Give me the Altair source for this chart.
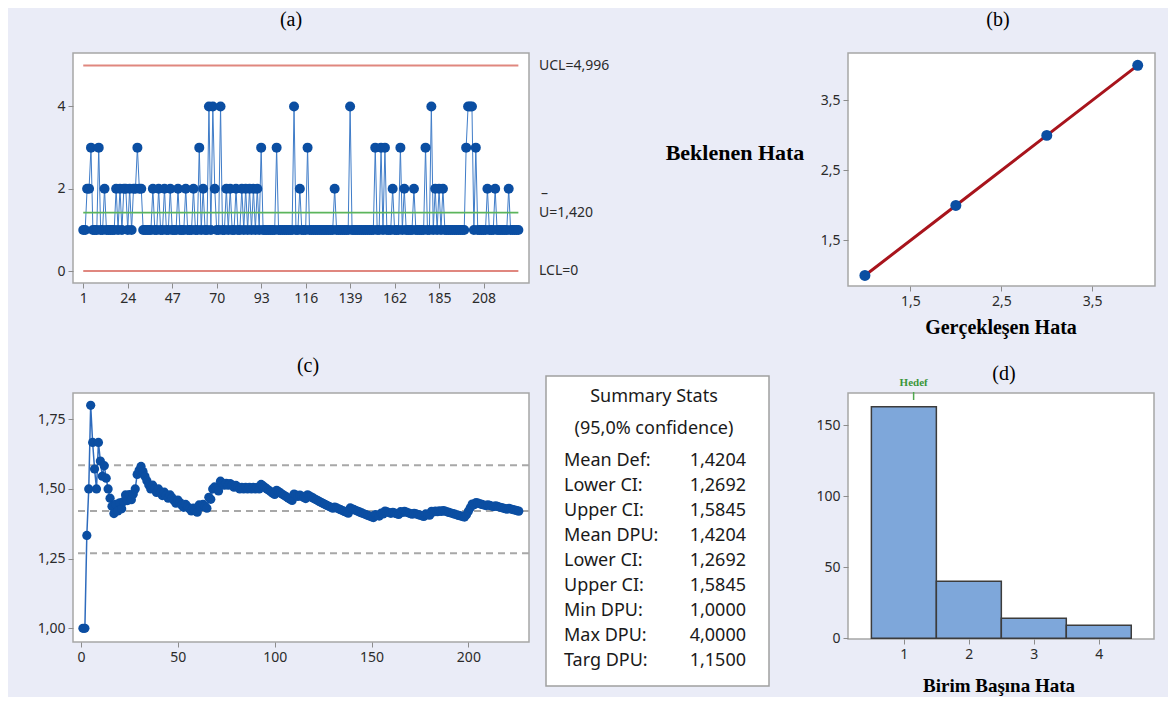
import altair as alt
import pandas as pd

# ---------------- data ----------------
# defects per unit for each of the 226 inspected units
dpu_values = [
    1, 1, 2, 2, 3, 1, 1, 1, 3, 1,
    1, 2, 1, 1, 1, 1, 1, 2, 1, 2,
    1, 2, 2, 1, 2, 1, 2, 2, 3, 2,
    2, 1, 1, 1, 1, 1, 2, 1, 1, 2,
    1, 1, 2, 1, 1, 2, 1, 1, 1, 2,
    1, 1, 1, 2, 1, 1, 1, 2, 1, 1,
    3, 1, 2, 1, 1, 4, 1, 4, 2, 1,
    1, 4, 1, 1, 2, 1, 2, 1, 1, 2,
    1, 1, 2, 1, 2, 1, 2, 1, 2, 1,
    2, 1, 3, 1, 1, 1, 1, 1, 1, 1,
    3, 1, 1, 1, 1, 1, 1, 1, 1, 4,
    1, 1, 2, 1, 1, 1, 3, 1, 1, 1,
    1, 1, 1, 1, 1, 1, 1, 1, 1, 1,
    2, 1, 1, 1, 1, 1, 1, 1, 4, 1,
    1, 1, 1, 1, 1, 1, 1, 1, 1, 1,
    1, 3, 1, 1, 3, 1, 3, 1, 1, 1,
    2, 1, 1, 1, 3, 1, 2, 1, 1, 1,
    1, 2, 1, 1, 1, 1, 1, 3, 1, 1,
    4, 1, 2, 1, 2, 1, 2, 1, 1, 1,
    1, 1, 1, 1, 1, 1, 1, 1, 3, 4,
    4, 4, 1, 3, 1, 1, 1, 1, 1, 2,
    1, 1, 1, 2, 1, 1, 1, 1, 1, 1,
    2, 1, 1, 1, 1, 1,
]
a_xticks = [1, 24, 47, 70, 93, 116, 139, 162, 185, 208]
limit_values = [4.996, 1.420, 0.0]
limit_labels = ["UCL=4,996", "U=1,420", "LCL=0"]
limit_kinds = ["ucl", "cl", "lcl"]

actual_err = [1, 2, 3, 4]
expected_err = [1, 2, 3, 4]

ci_levels = [1.5845, 1.4204, 1.2692]

stat_labels = ["Mean Def:", "Lower CI:", "Upper CI:", "Mean DPU:", "Lower CI:",
               "Upper CI:", "Min DPU:", "Max DPU:", "Targ DPU:"]
stat_values = ["1,4204", "1,2692", "1,5845", "1,4204", "1,2692",
               "1,5845", "1,0000", "4,0000", "1,1500"]
target_dpu = 1.15

# ---------------- style ----------------
BG = "#eaecf7"
BLUE = "#0b4ea2"
SANS = "Noto Sans"
SERIF = "Liberation Serif"
FRAME = dict(fill="white", stroke="#a6a6a6", strokeWidth=1.5)

samples = list(range(1, len(dpu_values) + 1))
df = pd.DataFrame({"sample": samples, "dpu": dpu_values})
one = pd.DataFrame({"k": [0]})


def label(text, x, y, size=20, font=SERIF, weight="normal", color="black", align="center"):
    return alt.Chart(pd.DataFrame({"t": [text]})).mark_text(
        font=font, fontSize=size, fontWeight=weight, color=color,
        align=align, baseline="middle"
    ).encode(x=alt.value(x), y=alt.value(y), text="t:N")


comma1 = "replace(format(datum.value, '.1f'), '.', ',')"
comma2 = "replace(format(datum.value, '.2f'), '.', ',')"

# ---------------- panel (a): U chart ----------------
xa = alt.Scale(domain=[-4.3, 231.5], nice=False, zero=False)
ya = alt.Scale(domain=[-0.29, 5.30], nice=False, zero=False)
axa_x = alt.Axis(values=a_xticks, title=None)
axa_y = alt.Axis(values=[0, 2, 4], title=None)
lim_df = pd.DataFrame({"v": limit_values, "label": limit_labels, "kind": limit_kinds,
                       "x0": [samples[0]] * 3, "x1": [samples[-1]] * 3})

bg = alt.Chart(one).mark_rect(opacity=0).encode(
    x=alt.value(-64), x2=alt.value(1094), y=alt.value(-44), y2=alt.value(640))

a_line = alt.Chart(df).mark_line(color="#3f7cc8", strokeWidth=1).encode(
    x=alt.X("sample:Q", scale=xa, axis=axa_x),
    y=alt.Y("dpu:Q", scale=ya, axis=axa_y),
)
a_lim = alt.Chart(lim_df).transform_filter("datum.kind != 'cl'").mark_rule(
    color="#e0877f", strokeWidth=2).encode(
    x=alt.X("x0:Q", scale=xa, axis=axa_x), x2="x1:Q",
    y=alt.Y("v:Q", scale=ya, axis=axa_y))
a_cl = alt.Chart(lim_df).transform_filter("datum.kind == 'cl'").mark_rule(
    color="#5cb55c", strokeWidth=1.6).encode(
    x=alt.X("x0:Q", scale=xa, axis=axa_x), x2="x1:Q",
    y=alt.Y("v:Q", scale=ya, axis=axa_y))
a_pts = alt.Chart(df).mark_circle(size=100, color=BLUE, opacity=1).encode(
    x=alt.X("sample:Q", scale=xa, axis=axa_x),
    y=alt.Y("dpu:Q", scale=ya, axis=axa_y))
a_txt = alt.Chart(lim_df).mark_text(align="left", baseline="middle", font=SANS,
                                    fontSize=14, color="#2b2b2b").encode(
    x=alt.value(466), y=alt.Y("v:Q", scale=ya, axis=axa_y), text="label:N")
a_bar = alt.Chart(lim_df).transform_filter("datum.kind == 'cl'").mark_text(
    align="left", baseline="middle", font=SANS, fontSize=14, color="#2b2b2b",
    dy=-19, dx=2).encode(
    x=alt.value(466), y=alt.Y("v:Q", scale=ya, axis=axa_y), text=alt.value("–"))

panel_a = alt.layer(
    bg, a_lim, a_line, a_cl, a_pts, a_txt, a_bar, label("(a)", 218, -33)
).properties(width=456, height=230, view=alt.ViewBackground(**FRAME))

# ---------------- spacer ----------------
spacer = alt.Chart(one).mark_rect(opacity=0).encode(
    x=alt.value(0), y=alt.value(0)).properties(
    width=285, height=230,
    view=alt.ViewBackground(fill="transparent", stroke="transparent"))

# ---------------- panel (b): expected vs actual ----------------
xb = alt.Scale(domain=[0.814, 4.19], nice=False, zero=False)
yb = alt.Scale(domain=[0.85, 4.176], nice=False, zero=False)
axb_x = alt.Axis(values=[1.5, 2.5, 3.5], labelExpr=comma1, title=None)
axb_y = alt.Axis(values=[1.5, 2.5, 3.5], labelExpr=comma1, title=None)
dfb = pd.DataFrame({"actual": actual_err, "expected": expected_err})
b_line = alt.Chart(dfb).mark_line(color="#a8141c", strokeWidth=3).encode(
    x=alt.X("actual:Q", scale=xb, axis=axb_x),
    y=alt.Y("expected:Q", scale=yb, axis=axb_y))
b_pts = alt.Chart(dfb).mark_circle(size=120, color=BLUE, opacity=1).encode(
    x=alt.X("actual:Q", scale=xb, axis=axb_x),
    y=alt.Y("expected:Q", scale=yb, axis=axb_y))
panel_b = alt.layer(
    b_line, b_pts,
    label("(b)", 150, -33),
    label("Beklenen Hata", -113, 100, size=22, weight="bold"),
    label("Gerçekleşen Hata", 153, 275, size=20, weight="bold"),
).properties(width=307, height=233, view=alt.ViewBackground(**FRAME))

# ---------------- panel (c): cumulative DPU ----------------
xc = alt.Scale(domain=[-4.13, 231.3], nice=False, zero=False)
yc = alt.Scale(domain=[0.951, 1.844], nice=False, zero=False)
axc_x = alt.Axis(values=[0, 50, 100, 150, 200], title=None)
axc_y = alt.Axis(values=[1.0, 1.25, 1.5, 1.75], labelExpr=comma2, title=None)
c_base = alt.Chart(df).transform_window(
    cum_sum="sum(dpu)", sort=[alt.SortField("sample", order="ascending")]
).transform_calculate(cum_mean="datum.cum_sum / datum.sample")
ci_df = pd.DataFrame({"v": ci_levels})
c_ci = alt.Chart(ci_df).mark_rule(color="#a8a8a8", strokeWidth=2, strokeDash=[7, 5]).encode(
    y=alt.Y("v:Q", scale=yc, axis=axc_y))
c_line = c_base.mark_line(color="#2e6bbd", strokeWidth=1.5).encode(
    x=alt.X("sample:Q", scale=xc, axis=axc_x),
    y=alt.Y("cum_mean:Q", scale=yc, axis=axc_y))
c_pts = c_base.mark_circle(size=85, color=BLUE, opacity=1).encode(
    x=alt.X("sample:Q", scale=xc, axis=axc_x),
    y=alt.Y("cum_mean:Q", scale=yc, axis=axc_y))
panel_c = alt.layer(c_ci, c_line, c_pts, label("(c)", 235, -27)).properties(
    width=456, height=249, view=alt.ViewBackground(**FRAME))

# ---------------- summary stats ----------------
stats_df = pd.DataFrame({"row": list(range(len(stat_labels))),
                         "label": stat_labels, "value": stat_values})
ys = alt.Scale(domain=[0, 8], range=[68, 268])
s_box = alt.Chart(one).mark_rect(fill="white", stroke="#a0a0a0", strokeWidth=1.5).encode(
    x=alt.value(0), x2=alt.value(223), y=alt.value(-17), y2=alt.value(293))
s_lab = alt.Chart(stats_df).mark_text(align="left", baseline="middle", font=SANS,
                                      fontSize=18, color="#1a1a1a").encode(
    x=alt.value(18), y=alt.Y("row:Q", scale=ys, axis=None), text="label:N")
s_val = alt.Chart(stats_df).mark_text(align="right", baseline="middle", font=SANS,
                                      fontSize=18, color="#1a1a1a").encode(
    x=alt.value(200), y=alt.Y("row:Q", scale=ys, axis=None), text="value:N")
panel_s = alt.layer(
    s_box, s_lab, s_val,
    label("Summary Stats", 108, 4, size=18, font=SANS, color="#1a1a1a"),
    label("(95,0% confidence)", 108, 36, size=18, font=SANS, color="#1a1a1a"),
).properties(width=285, height=249,
             view=alt.ViewBackground(fill="transparent", stroke="transparent"))

# ---------------- panel (d): histogram ----------------
xd = alt.Scale(domain=[0.14, 4.85], nice=False, zero=False)
yd = alt.Scale(domain=[-0.6, 172.6], nice=False, zero=False)
axd_x = alt.Axis(values=[1, 2, 3, 4], title=None)
axd_y = alt.Axis(values=[0, 50, 100, 150], title=None)
d_base = alt.Chart(df).transform_aggregate(
    count="count()", groupby=["dpu"]
).transform_calculate(lo="datum.dpu - 0.5", hi="datum.dpu + 0.5")
d_bars = d_base.mark_rect(fill="#7ea7da", stroke="#3c3c3c", strokeWidth=1.5).encode(
    x=alt.X("lo:Q", scale=xd, axis=axd_x),
    x2="hi:Q",
    y=alt.Y("count:Q", scale=yd, axis=axd_y),
    y2=alt.datum(0))
tgt_df = pd.DataFrame({"t": [target_dpu], "label": ["Hedef"]})
d_tick = alt.Chart(tgt_df).mark_rule(color="#4fa84f", strokeWidth=1.5).encode(
    x=alt.X("t:Q", scale=xd, axis=axd_x), y=alt.value(-1), y2=alt.value(7))
d_tlab = alt.Chart(tgt_df).mark_text(font=SERIF, fontSize=11, fontWeight="bold",
                                     color="#3a963a", baseline="middle").encode(
    x=alt.X("t:Q", scale=xd, axis=axd_x), y=alt.value(-10), text="label:N")
panel_d = alt.layer(
    d_bars, d_tick, d_tlab,
    label("(d)", 156, -19),
    label("Birim Başına Hata", 151, 293, size=19, weight="bold"),
).properties(width=306, height=246, view=alt.ViewBackground(**FRAME))

# ---------------- layout ----------------
chart = alt.concat(
    panel_a, spacer, panel_b, panel_c, panel_s, panel_d,
    columns=3, spacing={"row": 107, "column": 17}, bounds="flush", align="each",
).properties(padding=0).configure(background=BG).configure_axis(
    domain=False, grid=False, labelFont=SANS, labelFontSize=14,
    labelColor="#2b2b2b", tickColor="#8c8c8c", tickSize=5, labelPadding=3,
).configure_view(stroke="#a6a6a6", strokeWidth=1.5, fill="white")

chart.save("out.html", embed_options={"renderer": "svg", "actions": False})
